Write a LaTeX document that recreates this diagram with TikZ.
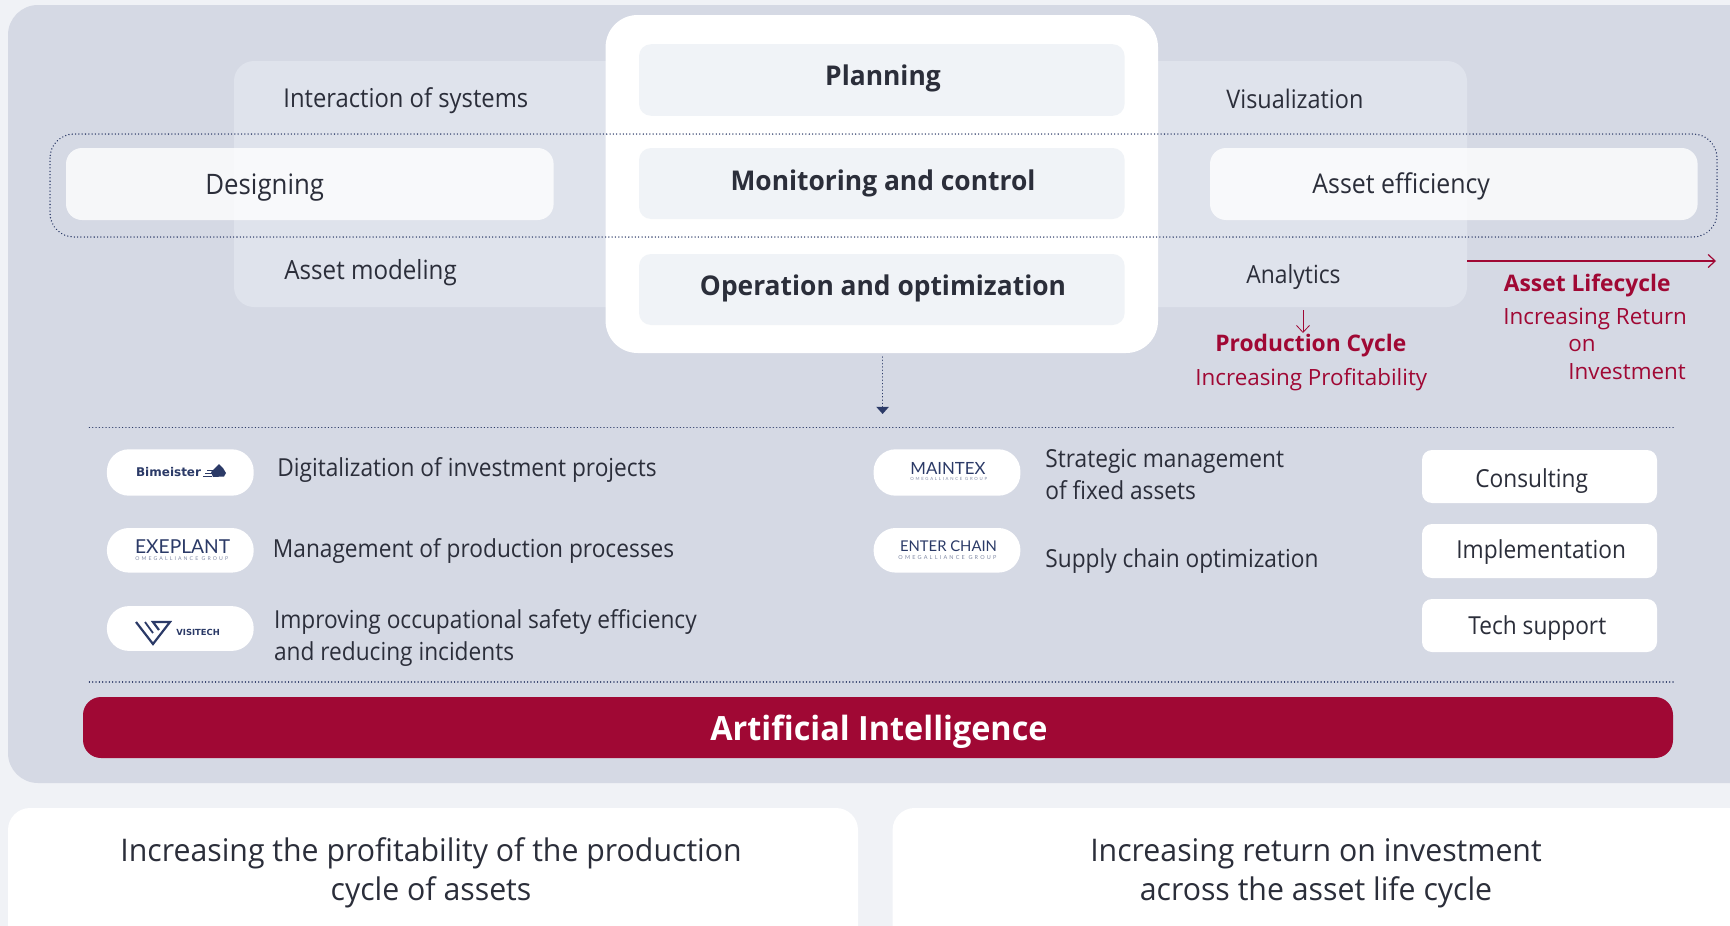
\documentclass[tikz,border=0pt]{standalone}
\usepackage{fontspec}
\usepackage{xcolor}
\usetikzlibrary{arrows.meta}
\setmainfont{Open Sans}
\newfontfamily\narrowfont[FakeStretch=0.915]{Open Sans}
\newfontfamily\semifont[FakeStretch=0.97]{Open Sans}
\newfontfamily\wideline[FakeStretch=0.97]{Open Sans}
\newfontfamily\logofont{DejaVu Sans}
\newfontfamily\logothin{Lato}
\newfontfamily\logosub[LetterSpace=40]{Lato}

\definecolor{pagebg}{HTML}{F0F2F6}
\definecolor{panelbg}{HTML}{D5D9E4}
\definecolor{lightbg}{HTML}{DFE3EC}
\definecolor{innerbg}{HTML}{F0F3F7}
\definecolor{inktext}{HTML}{2B2E3A}
\definecolor{navy}{HTML}{2B3A67}
\definecolor{wine}{HTML}{A00834}

\newcommand{\fsize}[1]{\fontsize{#1}{#1}\selectfont}

\tikzset{
	softbox/.style={rounded corners=8pt, inner sep=0pt},
	pillbox/.style={fill=white, rounded corners=11pt, inner sep=0pt, minimum width=73.4pt},
	dotline/.style={navy, line width=0.75pt, line cap=round, dash pattern=on 0.01pt off 1.65pt},
	itemtext/.style={inktext, inner sep=0pt, anchor=west, yshift=-1.6pt, text height=9.5pt, text depth=3pt, font=\narrowfont\fsize{12.4}},
	headtext/.style={inktext, inner sep=0pt, yshift=-1.6pt, text height=10.4pt, text depth=3.2pt, font=\semifont\bfseries\fsize{13.6}},
	redtext/.style={wine, inner sep=0pt, anchor=west, yshift=-1.5pt, text height=8.6pt, text depth=2.7pt, font=\fsize{11.2}},
	footertext/.style={inktext, inner sep=0pt, yshift=-1.6pt, text height=12pt, text depth=3.8pt, font=\wideline\fsize{15.6}},
	logotext/.style={navy, inner sep=0pt, anchor=west},
	logosubtext/.style={navy!60, inner sep=0pt, anchor=west},
}

\begin{document}
\begin{tikzpicture}[x=0.5pt, y=-0.5pt]
	\clip (0,0) rectangle (1730,926);
	\fill[pagebg] (0,0) rectangle (1730,926);

	% Panels
	\fill[panelbg, rounded corners=15pt] (8,5) rectangle (1790,783);
	\fill[lightbg, rounded corners=10pt] (234,61) rectangle (1467,307);
	\node[softbox, fill=white, opacity=0.8, minimum width=243.8pt, minimum height=36pt] (designbox) at (309.8,184) {};
	\node[softbox, fill=white, opacity=0.8, minimum width=243.8pt, minimum height=36pt] (efficiencybox) at (1453.8,184) {};
	\node[softbox, fill=white, rounded corners=16pt, minimum width=276.2pt, minimum height=169pt] (corebox) at (881.8,184) {};

	% Core boxes
	\node[softbox, fill=innerbg, rounded corners=6pt, minimum width=242.8pt, minimum height=35.8pt] (planningbox) at (881.8,80) {};
	\node[softbox, fill=innerbg, rounded corners=6pt, minimum width=242.8pt, minimum height=35.5pt] (monitoringbox) at (881.8,183.5) {};
	\node[softbox, fill=innerbg, rounded corners=6pt, minimum width=242.8pt, minimum height=35.5pt] (operationbox) at (881.8,289.5) {};

	% Dotted frame
	\draw[dotline, rounded corners=12pt] (50,134) rectangle (1717,237);

	% Upper texts
	\node[itemtext, font=\narrowfont\fsize{13}] (interaction) at (283,98) {Interaction of systems};
	\node[itemtext, font=\narrowfont\fsize{14.1}] (designing) at (205,185) {Designing};
	\node[itemtext, font=\narrowfont\fsize{13.2}] (modeling) at (284,270) {Asset modeling};
	\node[itemtext, font=\narrowfont\fsize{12.8}] (visualization) at (1226,99) {Visualization};
	\node[itemtext, font=\narrowfont\fsize{13.6}] (efficiency) at (1312,184) {Asset efficiency};
	\node[itemtext, font=\narrowfont\fsize{12.5}] (analytics) at (1246,274) {Analytics};
	\node[headtext] (planning) at (883,75) {Planning};
	\node[headtext] (monitoring) at (883,180) {Monitoring and control};
	\node[headtext] (operation) at (883,285) {Operation and optimization};

	% Lifecycle arrows
	\coordinate (lifestart) at (1467,261);
	\coordinate (lifeend) at (1716,261);
	\coordinate (cyclestart) at (1303,310);
	\coordinate (cycleend) at (1303,333);
	\draw[wine, line width=0.6pt, -{Straight Barb[length=3.5pt,width=6.5pt]}] (lifestart) -- (lifeend);
	\draw[wine, line width=0.4pt, -{Straight Barb[length=3.5pt,width=6.5pt]}] (cyclestart) -- (cycleend);
	\node[redtext, font=\fsize{11.4}\bfseries] (prodcycle) at (1215,343) {Production Cycle};
	\node[redtext] (prodprofit) at (1195,377) {Increasing Profitability};
	\node[redtext, font=\fsize{11.4}\bfseries] (lifecycle) at (1503.5,283) {Asset Lifecycle};
	\node[redtext] (lifereturn) at (1503,316) {Increasing Return};
	\node[redtext] (lifeon) at (1568,343) {on};
	\node[redtext] (lifeinvest) at (1568,371) {Investment};

	% Dotted arrow and separators
	\coordinate (dropend) at (882.6,414);
	\draw[dotline, -{Bar[width=0pt,line width=0pt,length=0pt,sep=5pt]Triangle[length=3.6pt,width=6.2pt]}] (882.6,357) -- (dropend);
	\draw[dotline] (89.4,427.7) -- (1675,427.7);
	\draw[dotline] (89.4,682) -- (1675,682);

	% Logo pills
	\node[pillbox, minimum height=23.2pt] (bimeisterpill) at (180.3,472.5) {};
	\node[pillbox, minimum height=22.3pt] (exeplantpill) at (180.3,550.3) {};
	\node[pillbox, minimum height=22.4pt] (visitechpill) at (180.3,628.5) {};
	\node[pillbox, minimum height=23.2pt] (maintexpill) at (947,472.5) {};
	\node[pillbox, minimum height=22.3pt] (enterchainpill) at (947,550.3) {};

	% Logos
	\node[logotext, font=\logofont\bfseries\fsize{6.0}] (bimeister) at (135.7,472) {Bimeister};
	\fill[navy] (211,472) -- (219,464) -- (223,468) -- (226,473) -- (224,476.5) -- (213,477) -- cycle;
	\fill[navy] (203,475.5) rectangle (212,477);
	\fill[navy] (205,472.5) rectangle (212,474);
	\fill[navy] (207,469.5) rectangle (213,471);
	\node[logotext, font=\logothin\fsize{9.6}] (exeplant) at (134.7,547) {EXEPLANT};
	\node[logosubtext, font=\logosub\fsize{2.6}] (exeplantsub) at (135,558.7) {OMEGALLIANCE GROUP};
	\draw[navy, line width=1.1pt, line join=miter] (136,622) -- (153,644) -- (170,622) -- (153,622) -- (159,630);
	\draw[navy, line width=0.9pt] (145,622) -- (153,633);
	\node[logotext, font=\logofont\bfseries\fsize{4.2}] (visitech) at (176,632) {VISITECH};
	\node[logotext, font=\logothin\fsize{8.4}] (maintex) at (910,468.7) {MAINTEX};
	\node[logosubtext, font=\logosub\fsize{2.15}] (maintexsub) at (910,479) {OMEGALLIANCE GROUP};
	\node[logotext, font=\logothin\fsize{7.4}] (enterchain) at (899.7,546) {ENTER CHAIN};
	\node[logosubtext, font=\logosub\fsize{2.75}] (enterchainsub) at (898,558) {OMEGALLIANCE GROUP};

	% Descriptions
	\node[itemtext] (digital) at (277,467) {Digitalization of investment projects};
	\node[itemtext] (production) at (272.5,548) {Management of production processes};
	\node[itemtext] (safety) at (273.6,619) {Improving occupational safety efficiency};
	\node[itemtext] (incidents) at (273.6,651) {and reducing incidents};
	\node[itemtext] (strategic) at (1045,458) {Strategic management};
	\node[itemtext] (fixed) at (1045,490) {of fixed assets};
	\node[itemtext] (supply) at (1045,558) {Supply chain optimization};

	% Service buttons
	\node[softbox, fill=white, rounded corners=5pt, minimum width=117.5pt, minimum height=26.5pt] (consultbox) at (1539.5,476.5) {};
	\node[softbox, fill=white, rounded corners=5pt, minimum width=117.5pt, minimum height=27pt] (implementbox) at (1539.5,551) {};
	\node[softbox, fill=white, rounded corners=5pt, minimum width=117.5pt, minimum height=26.5pt] (supportbox) at (1539.5,625.5) {};
	\node[itemtext] (consulting) at (1475,478) {Consulting};
	\node[itemtext] (implementation) at (1456,548.6) {Implementation};
	\node[itemtext] (techsupport) at (1468,624.5) {Tech support};

	% Artificial Intelligence bar
	\node[softbox, fill=wine, rounded corners=9pt, minimum width=795pt, minimum height=30.5pt] (aibar) at (878,727.5) {};
	\node[white, inner sep=0pt, yshift=-2.2pt, font=\semifont\bfseries\fsize{16.7}] (aitext) at (879,727) {Artificial Intelligence};

	% Bottom boxes
	\fill[white, rounded corners=11pt] (8,808) rectangle (858,990);
	\fill[white, rounded corners=11pt] (892.6,808) rectangle (1790,990);
	\node[footertext] (profitone) at (431,850) {Increasing the profitability of the production};
	\node[footertext] (profittwo) at (431,889) {cycle of assets};
	\node[footertext] (returnone) at (1316,850) {Increasing return on investment};
	\node[footertext] (returntwo) at (1316,889) {across the asset life cycle};
\end{tikzpicture}
\end{document}
